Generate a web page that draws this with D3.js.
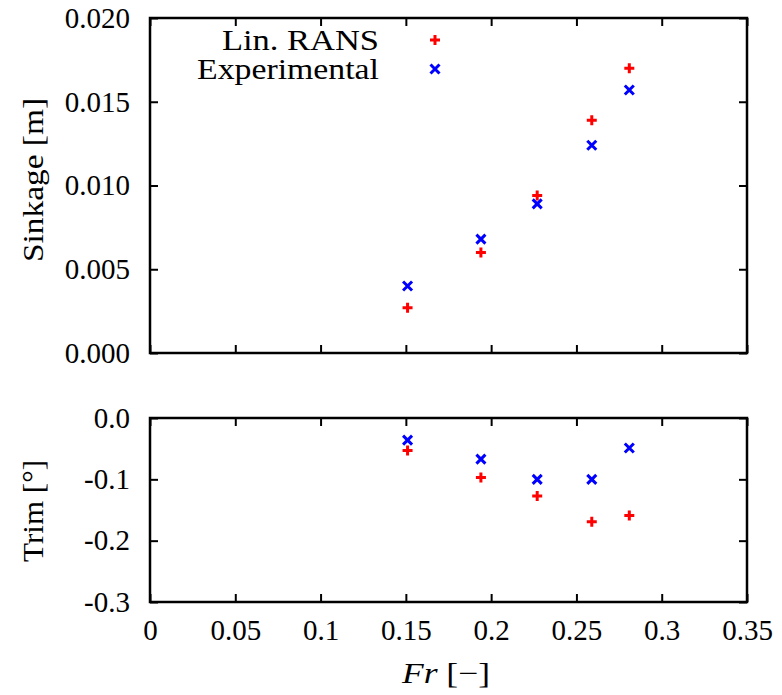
<!DOCTYPE html>
<html><head><meta charset="utf-8">
<script src="https://cdn.jsdelivr.net/npm/d3@7"></script>
<style>body{margin:0;background:#fff}svg{display:block}</style>
</head><body>
<svg id="c" width="782" height="695"></svg>
<script>
const fr = [0.151, 0.194, 0.227, 0.259, 0.281];
const sinkRans = [0.0027, 0.0060, 0.0094, 0.0139, 0.0170];
const sinkExp = [0.0040, 0.0068, 0.0089, 0.0124, 0.0157];
const trimRans = [-0.053, -0.097, -0.127, -0.169, -0.159];
const trimExp = [-0.036, -0.067, -0.100, -0.100, -0.049];
const xTicks = [0, 0.05, 0.1, 0.15, 0.2, 0.25, 0.3, 0.35];
const xTickLabels = ["0", "0.05", "0.1", "0.15", "0.2", "0.25", "0.3", "0.35"];
const sinkTicks = [0, 0.005, 0.01, 0.015, 0.02];
const sinkTickLabels = ["0.000", "0.005", "0.010", "0.015", "0.020"];
const trimTicks = [0, -0.1, -0.2, -0.3];
const trimTickLabels = ["0.0", "-0.1", "-0.2", "-0.3"];
const seriesNames = ["Lin. RANS", "Experimental"];

const FONT = "'Liberation Serif', 'Times New Roman', serif";
const svg = d3.select("#c");
const L = 150, R = 747;
const x = d3.scaleLinear().domain([0, 0.35]).range([L, R]);
const ySink = d3.scaleLinear().domain([0, 0.02]).range([353, 18]);
const yTrim = d3.scaleLinear().domain([-0.3, 0]).range([602, 418]);
const FS = 29, TK = 8;

function panel(y, yTicks, yLabels, showX) {
  const g = svg.append("g");
  const [b, t] = y.range();
  const fmtY = d => yLabels[yTicks.indexOf(d)];
  const fmtX = d => xTickLabels[xTicks.indexOf(d)];
  const ax = (sel) => {
    sel.attr("font-family", null).attr("font-size", null);
    sel.select(".domain").remove();
    sel.selectAll("line").attr("stroke", "#000").attr("stroke-width", 2);
    sel.selectAll("text").style("font-family", FONT).style("font-size", FS + "px").attr("fill", "#000");
  };
  g.append("g").attr("transform", `translate(0,${b})`)
    .call(d3.axisBottom(x).tickValues(xTicks).tickSizeInner(-TK).tickSizeOuter(0).tickPadding(17).tickFormat(showX ? fmtX : () => ""))
    .call(ax).selectAll("text").attr("dy", "0.71em");
  g.append("g").attr("transform", `translate(0,${t})`)
    .call(d3.axisTop(x).tickValues(xTicks).tickSizeInner(-TK).tickSizeOuter(0).tickFormat(() => "")).call(ax);
  g.append("g").attr("transform", `translate(${L},0)`)
    .call(d3.axisLeft(y).tickValues(yTicks).tickSizeInner(-TK).tickSizeOuter(0).tickPadding(20).tickFormat(fmtY))
    .call(ax);
  g.append("g").attr("transform", `translate(${R},0)`)
    .call(d3.axisRight(y).tickValues(yTicks).tickSizeInner(-TK).tickSizeOuter(0).tickFormat(() => "")).call(ax);
  g.append("rect").attr("x", L).attr("y", t).attr("width", R - L).attr("height", b - t)
    .attr("fill", "none").attr("stroke", "#000").attr("stroke-width", 2.5);
  return g;
}

function plus(g, cx, cy) {
  const s = 5;
  g.append("path").attr("d", `M${cx - s},${cy}H${cx + s}M${cx},${cy - s}V${cy + s}`)
    .attr("stroke", "#ff0000").attr("stroke-width", 3).attr("fill", "none");
}
function cross(g, cx, cy) {
  const s = 4.5;
  g.append("path").attr("d", `M${cx - s},${cy - s}L${cx + s},${cy + s}M${cx - s},${cy + s}L${cx + s},${cy - s}`)
    .attr("stroke", "#0000ff").attr("stroke-width", 3).attr("fill", "none");
}

const g1 = panel(ySink, sinkTicks, sinkTickLabels, false);
const g2 = panel(yTrim, trimTicks, trimTickLabels, true);

fr.forEach((f, i) => {
  plus(g1, x(f), ySink(sinkRans[i]));
  cross(g1, x(f), ySink(sinkExp[i]));
  plus(g2, x(f), yTrim(trimRans[i]));
  cross(g2, x(f), yTrim(trimExp[i]));
});

function txt(sel) { return sel.style("font-family", FONT).style("font-size", FS + "px").attr("fill", "#000"); }

// legend
const lg = svg.append("g");
txt(lg.append("text").attr("x", 379).attr("y", 50).attr("text-anchor", "end"))
  .attr("textLength", 157).attr("lengthAdjust", "spacingAndGlyphs").text(seriesNames[0]);
txt(lg.append("text").attr("x", 379).attr("y", 79).attr("text-anchor", "end"))
  .attr("textLength", 182).attr("lengthAdjust", "spacingAndGlyphs").text(seriesNames[1]);
plus(lg, 435, 40);
cross(lg, 435, 69);

// axis titles
txt(svg.append("text").attr("transform", `translate(43,180) rotate(-90)`)
  .attr("text-anchor", "middle")).attr("textLength", 164).attr("lengthAdjust", "spacingAndGlyphs").text("Sinkage [m]");
txt(svg.append("text").attr("transform", `translate(43,511) rotate(-90)`)
  .attr("text-anchor", "middle")).attr("textLength", 102).attr("lengthAdjust", "spacingAndGlyphs").text("Trim [°]");
const xt = txt(svg.append("text").attr("x", 446).attr("y", 683).attr("text-anchor", "middle"))
  .attr("textLength", 88).attr("lengthAdjust", "spacingAndGlyphs");
xt.append("tspan").attr("font-style", "italic").text("Fr");
xt.append("tspan").text(" [−]");
</script>
</body></html>
